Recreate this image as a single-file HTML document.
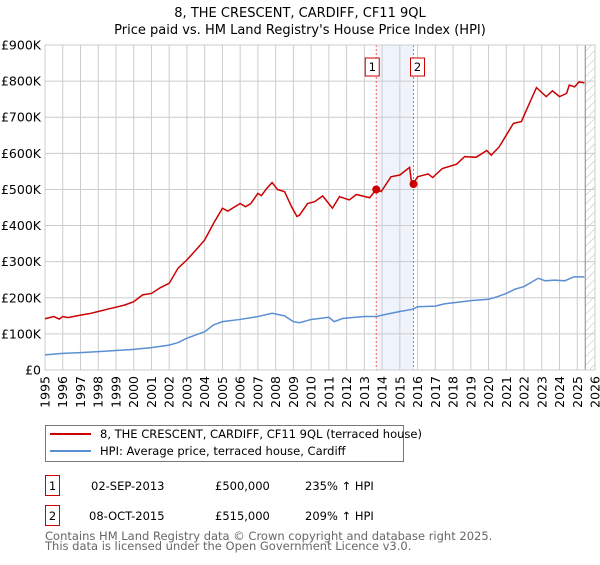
<!DOCTYPE html>
<html><head><meta charset="utf-8"><style>
body{margin:0;background:#fff;font-family:"Liberation Sans","DejaVu Sans",sans-serif}
</style></head><body>
<svg width="600" height="560" xmlns="http://www.w3.org/2000/svg" style="font-family:'DejaVu Sans','Liberation Sans',sans-serif">
<defs><pattern id="hatch" width="6" height="6" patternUnits="userSpaceOnUse" patternTransform="rotate(45)"><line x1="0" y1="0" x2="0" y2="6" stroke="#bbb" stroke-width="1"/></pattern></defs>
<text x="300" y="17" text-anchor="middle" font-size="13">8, THE CRESCENT, CARDIFF, CF11 9QL</text>
<text x="300" y="34" text-anchor="middle" font-size="13">Price paid vs. HM Land Registry's House Price Index (HPI)</text>
<g id="plot"></g>
<g>
<rect x="45.5" y="425.5" width="358" height="36" fill="#fff" stroke="#777"/>
<line x1="50" y1="434" x2="91" y2="434" stroke="#cc0000" stroke-width="2"/>
<text x="100" y="438" font-size="11.5">8, THE CRESCENT, CARDIFF, CF11 9QL (terraced house)</text>
<line x1="50" y1="451" x2="91" y2="451" stroke="#5b8fd4" stroke-width="2"/>
<text x="100" y="455" font-size="11.5">HPI: Average price, terraced house, Cardiff</text>
</g>
<g font-size="11.5">
<rect x="45.5" y="475.5" width="14" height="20" fill="#fff" stroke="#cc0000"/><text x="52.5" y="490" text-anchor="middle">1</text>
<text x="91" y="490">02-SEP-2013</text><text x="215" y="490">£500,000</text><text x="305" y="490">235% ↑ HPI</text>
<rect x="45.5" y="505.5" width="14" height="20" fill="#fff" stroke="#cc0000"/><text x="52.5" y="520" text-anchor="middle">2</text>
<text x="89" y="520">08-OCT-2015</text><text x="215" y="520">£515,000</text><text x="305" y="520">209% ↑ HPI</text>
</g>
<text x="45" y="540" font-size="11.5" fill="#666">Contains HM Land Registry data © Crown copyright and database right 2025.</text>
<text x="45" y="550" font-size="11.5" fill="#666">This data is licensed under the Open Government Licence v3.0.</text>
</svg>
<script>
const yTicks=[0,100,200,300,400,500,600,700,800,900];
const yTickLabels=["£0","£100K","£200K","£300K","£400K","£500K","£600K","£700K","£800K","£900K"];
const xYears=[1995,1996,1997,1998,1999,2000,2001,2002,2003,2004,2005,2006,2007,2008,2009,2010,2011,2012,2013,2014,2015,2016,2017,2018,2019,2020,2021,2022,2023,2024,2025,2026];
const propYears=[1995,1995.5,1995.8,1996,1996.3,1997,1997.5,1998,1998.5,1999,1999.5,2000,2000.5,2001,2001.5,2002,2002.5,2003,2003.5,2004,2004.5,2005,2005.3,2006,2006.3,2006.6,2007,2007.2,2007.5,2007.8,2008.1,2008.5,2008.9,2009.2,2009.35,2009.8,2010.2,2010.65,2011.2,2011.6,2012.15,2012.55,2013.3,2013.67,2013.95,2014.5,2015,2015.55,2015.65,2015.77,2016,2016.6,2016.85,2017.4,2018.2,2018.65,2019.3,2019.9,2020.15,2020.6,2021.4,2021.85,2022.3,2022.7,2023.25,2023.6,2024,2024.4,2024.55,2024.85,2025.1,2025.4];
const propValues=[142,148,141,148,145,152,156,162,168,174,180,189,208,212,228,240,282,305,332,360,406,448,440,461,452,461,489,483,503,519,500,494,452,425,429,461,466,482,448,480,471,486,477,500,494,535,540,561,522,517,535,543,533,558,570,591,589,608,595,618,683,688,738,782,757,773,757,766,789,784,798,795];
const hpiYears=[1995,1996,1997,1998,1999,2000,2001,2002,2002.5,2003,2004,2004.5,2005,2006,2007,2007.8,2008.5,2009,2009.35,2010,2011,2011.3,2011.8,2013,2013.7,2014,2015,2015.7,2016,2017,2017.5,2018.5,2019,2020,2020.5,2021,2021.5,2022,2022.8,2023.2,2023.7,2024.3,2024.8,2025.4];
const hpiValues=[42,46,48,51,54,57,62,69,76,88,106,125,134,140,148,157,150,134,131,140,146,134,143,148,148,152,162,168,175,177,183,189,192,196,203,212,224,231,254,247,249,247,258,258];
const saleYears=[2013.67,2015.77];
const saleValues=[500,515];
const saleLabels=["1","2"];
const dataEnd=2025.45;
const L=45,R=595,T=45,B=370;
const X=y=>L+(y-1995)/(2026-1995)*(R-L);
const Y=v=>B-v/900*(B-T);
const NS="http://www.w3.org/2000/svg";
const g=document.getElementById('plot');
function mk(t,a,p){const e=document.createElementNS(NS,t);for(const k in a)e.setAttribute(k,a[k]);(p||g).appendChild(e);return e;}
const bg=mk('rect',{x:L,y:T,width:R-L,height:B-T,fill:'#fff'});


const sh=mk('rect',{x:X(saleYears[0]),y:T,width:X(saleYears[1])-X(saleYears[0]),height:B-T,fill:'#eef3fc'});


const ht=mk('rect',{x:X(dataEnd),y:T,width:R-X(dataEnd),height:B-T,fill:'url(#hatch)'});


yTicks.forEach((v,i)=>{
 const l=mk('line',{x1:L,x2:R,y1:Y(v),y2:Y(v),stroke:'#ccc'});
 
 
 const t=mk('text',{x:L-4,y:Y(v)+4.5,'text-anchor':'end','font-size':'12.5'});t.textContent=yTickLabels[i];
 
 
});
xYears.forEach(yr=>{
 const l=mk('line',{x1:X(yr),x2:X(yr),y1:T,y2:B,stroke:'#ccc'});
 
 
 const t=mk('text',{x:0,y:0,'text-anchor':'end','font-size':'12.5',transform:`translate(${X(yr)+4.5},${B+6}) rotate(-90)`});t.textContent=yr;
 
 
});
const el=mk('line',{x1:X(dataEnd),x2:X(dataEnd),y1:T,y2:B,stroke:'#888'});


saleYears.forEach((yr,i)=>{
 const l=mk('line',{x1:X(yr),x2:X(yr),y1:T,y2:B,stroke:'#f06060','stroke-dasharray':'2,2'});
 
 
 const bx=X(yr)-13-(i?-10:0);
 const r=mk('rect',{x:X(yr)-10-(i==0?5:-4)+ (i==0?0:-4),y:58,width:14,height:18,fill:'#fff',stroke:'#cc0000'});
 r.setAttribute('x',X(yr)+(i==0?-11:-3));
 
 
 const t=mk('text',{x:X(yr)+(i==0?-4:4),y:71,'text-anchor':'middle','font-size':'11.5'});t.textContent=saleLabels[i];
 
 
});
mk('rect',{x:L,y:T,width:R-L,height:B-T,fill:'none',stroke:'#ccc'});
const hp=mk('polyline',{points:hpiYears.map((y,i)=>X(y)+','+Y(hpiValues[i])).join(' '),fill:'none',stroke:'#5b8fd4','stroke-width':1.5});


const pp=mk('polyline',{points:propYears.map((y,i)=>X(y)+','+Y(propValues[i])).join(' '),fill:'none',stroke:'#cc0000','stroke-width':1.5});


saleYears.forEach((yr,i)=>{
 const c=mk('circle',{cx:X(yr),cy:Y(saleValues[i]),r:4,fill:'#cc0000'});
 
 
});
</script>
</body></html>
